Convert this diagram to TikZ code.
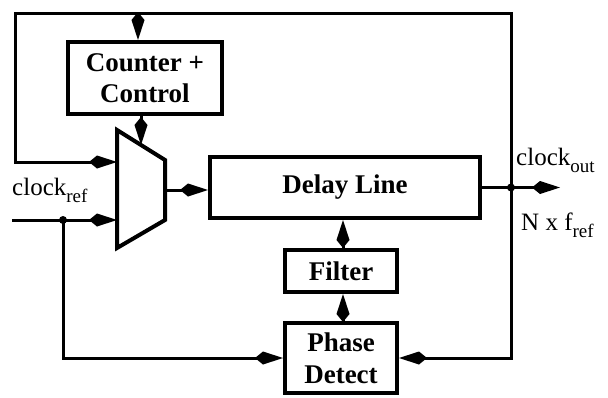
\documentclass[tikz,border=0pt]{standalone}
\usepackage{fontspec}
\setmainfont{Liberation Serif}
\usetikzlibrary{arrows.meta}
\newcommand{\lsub}[1]{\raisebox{-7pt}{\fontsize{19}{20}\selectfont #1}}
\begin{document}
\begin{tikzpicture}[x=1pt,y=-1pt,
  blk/.style={draw, line width=4pt, font=\fontsize{27}{31}\selectfont\bfseries, align=center, inner sep=0pt},
  wire/.style={line width=3pt},
  tip/.style={-{Kite[length=28pt,width=13pt,inset=8pt]}},
  lbl/.style={font=\fontsize{25}{28}\selectfont, inner sep=0pt},
  dot/.style={circle, fill, inner sep=0pt, minimum size=8pt}]
\useasboundingbox (0,0) rectangle (608,397);
% blocks
\node[blk, minimum width=154pt, minimum height=72pt] (counter) at (145,78) {Counter +\\Control};
\node[blk, minimum width=270pt, minimum height=61pt] (delay) at (345,187.5) {Delay Line};
\node[blk, minimum width=112pt, minimum height=42pt] (filter) at (341,271) {Filter};
\node[blk, minimum width=112pt, minimum height=70pt] (phase) at (341,358) {Phase\\[1pt]Detect};
% mux
\coordinate (m1) at (117,130);
\coordinate (m2) at (165,160);
\coordinate (m3) at (165,220);
\coordinate (m4) at (117,248);
\draw[line width=4pt, line join=miter] (m1) -- (m2) -- (m3) -- (m4) -- cycle;
\coordinate (muxin1) at (117,162);
\coordinate (muxin2) at (117,220);
\coordinate (muxout) at (165,190);
\coordinate (muxtop) at (141,145);
% helper coordinates
\coordinate (tc) at (138,13);
\coordinate (topleft) at (15,13);
\coordinate (refstart) at (12,220);
\coordinate (ax) at (343,0);
\coordinate (outend) at (560,187.5);
\node[dot] (outdot) at (511,187.5) {};
\node[dot] (refdot) at (63,220) {};
% connectors
\draw[wire,tip] (outdot.center) |- (topleft) |- (muxin1);
\draw[wire,tip] (tc) -- (counter.north -| tc);
\draw[wire,tip] (counter.south -| muxtop) -- (muxtop);
\draw[wire,tip] (muxout) -- (delay.west |- muxout);
\draw[wire,tip] (refstart) -- (muxin2);
\draw[wire,tip] (refdot.center) |- (phase.west);
\draw[wire,tip] (delay.east) -- (outend);
\draw[wire,tip] (outdot.center) |- (phase.east);
\draw[wire,tip] (filter.north -| ax) -- (delay.south -| ax);
\draw[wire,tip] (phase.north -| ax) -- (filter.south -| ax);
% labels
\node[lbl, anchor=base west] (clkout) at (516,165) {clock\lsub{out}};
\node[lbl, anchor=base west] (nf) at (521,230) {N x f\lsub{ref}};
\node[lbl, anchor=base west] (clkref) at (12,195) {clock\lsub{ref}};
\end{tikzpicture}
\end{document}
